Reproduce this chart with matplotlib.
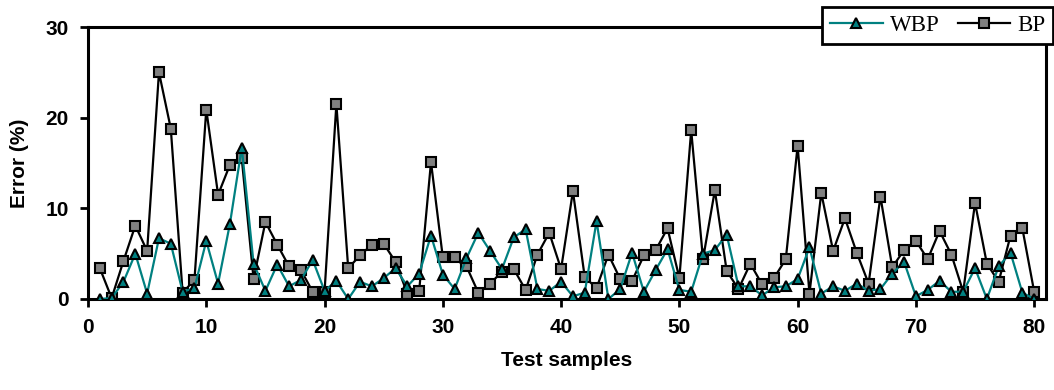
import numpy as np
import matplotlib
matplotlib.use('Agg')
from matplotlib import pyplot as plt

# test sample error values
samples = np.arange(1, 81)

wbp = [
    0.0, 0.1, 1.9, 5.0, 0.6, 6.7, 6.1, 0.8, 1.2, 6.4,
    1.7, 8.3, 16.7, 3.9, 0.9, 3.8, 1.4, 2.1, 4.3, 0.9,
    2.0, 0.0, 1.9, 1.4, 2.3, 3.4, 1.4, 2.8, 7.0, 2.7,
    1.1, 4.5, 7.3, 5.3, 3.3, 6.8, 7.7, 1.1, 0.9, 1.9,
    0.3, 0.7, 8.6, 0.0, 1.1, 5.1, 0.8, 3.2, 5.5, 1.0,
    0.8, 5.0, 5.4, 7.1, 1.4, 1.4, 0.4, 1.3, 1.4, 2.2,
    5.7, 0.6, 1.4, 0.9, 1.7, 0.9, 1.1, 2.8, 4.1, 0.3,
    1.0, 2.0, 0.8, 0.8, 3.4, 0.0, 3.6, 5.1, 0.7, 0.0,
]

bp = [
    3.4, 0.1, 4.2, 8.1, 5.3, 25.0, 18.8, 0.7, 2.1, 20.9,
    11.5, 14.8, 15.5, 2.2, 8.5, 6.0, 3.6, 3.2, 0.8, 0.8,
    21.5, 3.4, 4.8, 6.0, 6.1, 4.1, 0.6, 0.9, 15.1, 4.6,
    4.6, 3.6, 0.7, 1.7, 3.0, 3.3, 1.0, 4.9, 7.3, 3.3,
    11.9, 2.4, 1.2, 4.9, 2.2, 2.0, 4.8, 5.4, 7.8, 2.3,
    18.6, 4.4, 12.0, 3.1, 1.1, 3.9, 1.6, 2.3, 4.4, 16.9,
    0.6, 11.7, 5.3, 8.9, 5.1, 1.7, 11.3, 3.5, 5.4, 6.4,
    4.4, 7.5, 4.9, 0.8, 10.6, 3.9, 1.9, 7.0, 7.8, 0.8,
]

x_ticks = [0, 10, 20, 30, 40, 50, 60, 70, 80]
y_ticks = [0, 10, 20, 30]

TEAL = '#008080'
GREY = '#808080'

plt.rcParams['font.family'] = ['Liberation Sans', 'DejaVu Sans']
plt.rcParams['font.weight'] = 'bold'
plt.rcParams['axes.labelweight'] = 'bold'

fig = plt.figure(figsize=(10.54, 3.90), dpi=100)
ax = fig.add_axes([88 / 1054, 1 - 299 / 390, (1046 - 88) / 1054, (299 - 27) / 390])

ax.plot(samples, wbp, color=TEAL, lw=1.6, marker='^', ms=6.5,
        mfc=TEAL, mec='black', mew=1.5, label='WBP', zorder=3)
ax.plot(samples, bp, color='black', lw=1.6, marker='s', ms=6.5,
        mfc=GREY, mec='black', mew=1.5, label='BP', zorder=2)

ax.set_xlim(0, 81)
ax.set_ylim(0, 30)
ax.set_xticks(x_ticks)
ax.set_yticks(y_ticks)
ax.tick_params(direction='out', length=6, width=2, labelsize=15, pad=8)
for sp in ax.spines.values():
    sp.set_linewidth(2.2)

ax.set_xlabel('Test samples', fontsize=15, labelpad=10)
ax.set_ylabel('Error (%)', fontsize=15, labelpad=12)

leg = ax.legend(loc='upper left', bbox_to_anchor=(822 / 1054, 1 - 7 / 390),
                bbox_transform=fig.transFigure, ncol=2, frameon=True,
                fancybox=False, edgecolor='black', framealpha=1,
                prop={'family': 'Liberation Serif', 'size': 16.5, 'weight': 'normal'},
                handlelength=2.3, handletextpad=0.3, columnspacing=0.8,
                borderpad=0.35, borderaxespad=0)
leg.get_frame().set_linewidth(2)
leg.set_zorder(10)

fig.savefig('out.png', dpi=100)
